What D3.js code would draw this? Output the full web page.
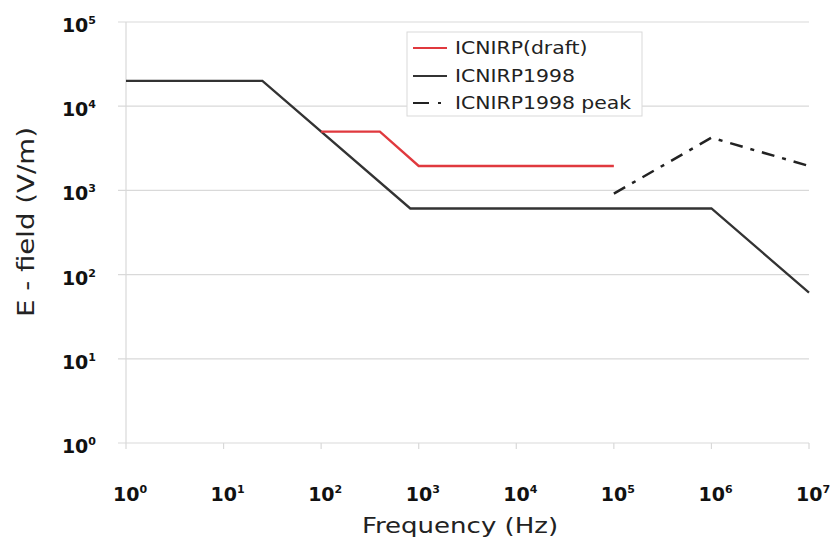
<!DOCTYPE html>
<html><head><meta charset="utf-8">
<script src="https://cdn.jsdelivr.net/npm/d3@7"></script>
<style>body{margin:0;background:#fff}svg{display:block}</style>
</head><body>
<svg id="c" width="831" height="539"></svg>
<script>
const xTicks = [1e0,1e1,1e2,1e3,1e4,1e5,1e6,1e7];
const yTicks = [1e0,1e1,1e2,1e3,1e4,1e5];
const draftFreq = [100, 400, 1000, 1e5];
const draftE = [5000, 5000, 1950, 1950];
const icnirpFreq = [1, 25, 820, 1e6, 1e7];
const icnirpE = [20000, 20000, 610, 610, 61];
const peakFreq = [1e5, 1e6, 1e7];
const peakE = [915, 4226, 1952];
const seriesNames = ["ICNIRP(draft)", "ICNIRP1998", "ICNIRP1998 peak"];

const svg = d3.select("#c");
const x = d3.scaleLog().domain([1, 1e7]).range([126, 809]);
const y = d3.scaleLog().domain([1, 1e5]).range([443, 22]);
const font = "'DejaVu Sans', Verdana, sans-serif";
const gridCol = "#d9d9d9";

// gridlines
svg.append("g").selectAll("line").data(yTicks).join("line")
  .attr("x1", 118).attr("x2", 809)
  .attr("y1", d => y(d)).attr("y2", d => y(d))
  .attr("stroke", gridCol).attr("stroke-width", 1.2);
// left axis
svg.append("line").attr("x1", x(1)).attr("x2", x(1)).attr("y1", y(1e5)).attr("y2", y(1))
  .attr("stroke", gridCol).attr("stroke-width", 1.2);
// bottom ticks
svg.append("g").selectAll("line").data(xTicks).join("line")
  .attr("x1", d => x(d)).attr("x2", d => x(d)).attr("y1", y(1)).attr("y2", y(1) + 6)
  .attr("stroke", gridCol).attr("stroke-width", 1.2);

// tick labels
const tl = svg.append("g").attr("font-family", font).attr("font-weight", "bold").attr("fill", "#111");
function powLabel(t, d) {
  t.append("tspan").text("10");
  t.append("tspan").attr("font-size", 11).attr("dy", -8).text(Math.round(Math.log10(d)));
}
yTicks.forEach(d => {
  const t = tl.append("text").attr("x", 96).attr("y", y(d) + 10).attr("text-anchor", "end").attr("font-size", 19);
  powLabel(t, d);
});
xTicks.forEach(d => {
  const t = tl.append("text").attr("x", x(d) - 13).attr("y", 501).attr("text-anchor", "start").attr("font-size", 19);
  powLabel(t, d);
});

// axis titles
svg.append("text").attr("transform", "translate(460,533) scale(1.27,1)").attr("text-anchor", "middle")
  .attr("font-family", font).attr("font-size", 20.5).attr("fill", "#222").text("Frequency (Hz)");
svg.append("text").attr("transform", "translate(34,222) rotate(-90)").attr("text-anchor", "middle")
  .attr("font-family", font).attr("font-size", 23).attr("fill", "#222")
  .attr("textLength", 190).attr("lengthAdjust", "spacingAndGlyphs").text("E - field (V/m)");

// series
const line = d3.line().x(d => x(d[0])).y(d => y(d[1]));
const zip = (a, b) => a.map((v, i) => [v, b[i]]);
svg.append("path").attr("d", line(zip(icnirpFreq, icnirpE))).attr("fill", "none")
  .attr("stroke", "#333").attr("stroke-width", 2.3);
svg.append("path").attr("d", line(zip(draftFreq, draftE))).attr("fill", "none")
  .attr("stroke", "#e0393e").attr("stroke-width", 2.3);
svg.append("path").attr("d", line(zip(peakFreq, peakE))).attr("fill", "none")
  .attr("stroke", "#222").attr("stroke-width", 2.5).attr("stroke-dasharray", "13,8,4,8");

// legend
const lg = svg.append("g");
lg.append("rect").attr("x", 407).attr("y", 32).attr("width", 235).attr("height", 84)
  .attr("fill", "#fff").attr("stroke", "#d9d9d9").attr("stroke-width", 1);
const legStyles = [
  {stroke: "#e0393e", dash: null},
  {stroke: "#333", dash: null},
  {stroke: "#222", dash: "16,9,3,20"}
];
const rowY = [48, 76, 103];
seriesNames.forEach((n, i) => {
  const cy = rowY[i];
  lg.append("line").attr("x1", 413).attr("x2", 447).attr("y1", cy).attr("y2", cy)
    .attr("stroke", legStyles[i].stroke).attr("stroke-width", 2.2)
    .attr("stroke-dasharray", legStyles[i].dash);
  lg.append("text").attr("transform", `translate(455,${cy + 6}) scale(1.2,1)`).attr("font-family", font)
    .attr("font-size", 17).attr("fill", "#222").text(n);
});
</script>
</body></html>
